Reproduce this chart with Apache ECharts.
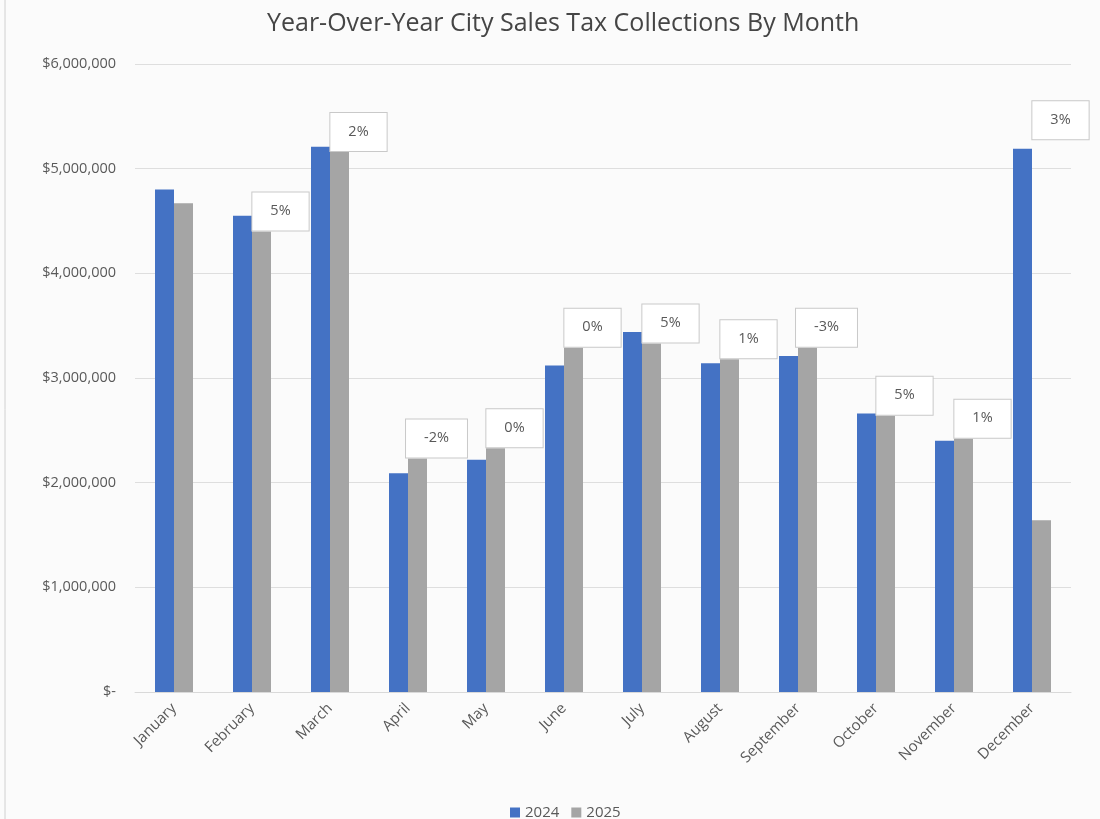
<!DOCTYPE html>
<html>
<head>
<meta charset="utf-8">
<script src="https://cdn.jsdelivr.net/npm/echarts@6/dist/echarts.min.js"></script>
<style>
html,body{margin:0;padding:0;background:#fbfbfb;}
#c{width:1100px;height:819px;}
</style>
</head>
<body>
<div id="c"></div>
<script>
const months = ['January','February','March','April','May','June','July','August','September','October','November','December'];
const sales2024 = [4800000, 4550000, 5210000, 2090000, 2220000, 3120000, 3440000, 3140000, 3210000, 2660000, 2400000, 5190000];
const sales2025 = [4670000, 4400000, 5160000, 2230000, 2330000, 3290000, 3330000, 3180000, 3290000, 2640000, 2420000, 1640000];
const yoyLabels = ['', '5%', '2%', '-2%', '0%', '0%', '5%', '1%', '-3%', '5%', '1%', '3%'];
const yTicks = [0, 1000000, 2000000, 3000000, 4000000, 5000000, 6000000];

const FONT = '"Open Sans", "Noto Sans", sans-serif';
const chart = echarts.init(document.getElementById('c'));

const labelStyle = {
  show: true,
  position: 'top',
  distance: 1,
  offset: [19, 0],
  backgroundColor: '#ffffff',
  borderColor: '#c9c9c9',
  borderWidth: 1,
  padding: [11, 18, 12, 18],
  color: '#595959',
  fontSize: 14.5,
  fontFamily: FONT
};

const data2025 = sales2025.map((v, i) => {
  const item = { value: v };
  if (!yoyLabels[i]) {
    item.label = { show: false };
  } else if (i === 11) {
    item.label = { offset: [19, -380] };
  }
  return item;
});

chart.setOption({
  backgroundColor: '#fbfbfb',
  animation: false,
  title: {
    text: 'Year-Over-Year City Sales Tax Collections By Month',
    left: 262,
    top: 6,
    textStyle: { color: '#454545', fontSize: 25, fontWeight: 'normal', fontFamily: FONT }
  },
  legend: {
    data: ['2024', '2025'],
    left: 505,
    top: 800,
    icon: 'rect',
    itemWidth: 10,
    itemHeight: 10,
    itemGap: 12,
    textStyle: { color: '#595959', fontSize: 15, fontFamily: FONT }
  },
  grid: { left: 135, right: 29, top: 64, bottom: 127, containLabel: false },
  xAxis: {
    type: 'category',
    data: months,
    axisLine: { lineStyle: { color: '#d9d9d9' } },
    axisTick: { show: false },
    axisLabel: {
      interval: 0, rotate: 45, color: '#595959', fontSize: 15, fontFamily: FONT, margin: 14
    }
  },
  yAxis: {
    type: 'value',
    min: yTicks[0],
    max: yTicks[yTicks.length - 1],
    interval: 1000000,
    axisLine: { show: false },
    axisTick: { show: false },
    splitLine: { lineStyle: { color: '#dedede' } },
    axisLabel: {
      color: '#595959', fontSize: 14.5, fontFamily: FONT, margin: 19,
      formatter: v => v === 0 ? '$-' : '$' + v.toLocaleString('en-US')
    }
  },
  series: [
    {
      name: '2024', type: 'bar', data: sales2024, barWidth: 19, barGap: '0%',
      itemStyle: { color: '#4472c4' }
    },
    {
      name: '2025', type: 'bar', data: data2025, barWidth: 19,
      itemStyle: { color: '#a5a5a5' },
      label: Object.assign({}, labelStyle, { formatter: p => yoyLabels[p.dataIndex] })
    }
  ],
  graphic: [{
    type: 'line', shape: { x1: 5, y1: 0, x2: 5, y2: 819 }, style: { stroke: '#d0d0d0', lineWidth: 1 }
  }]
});
</script>
</body>
</html>
